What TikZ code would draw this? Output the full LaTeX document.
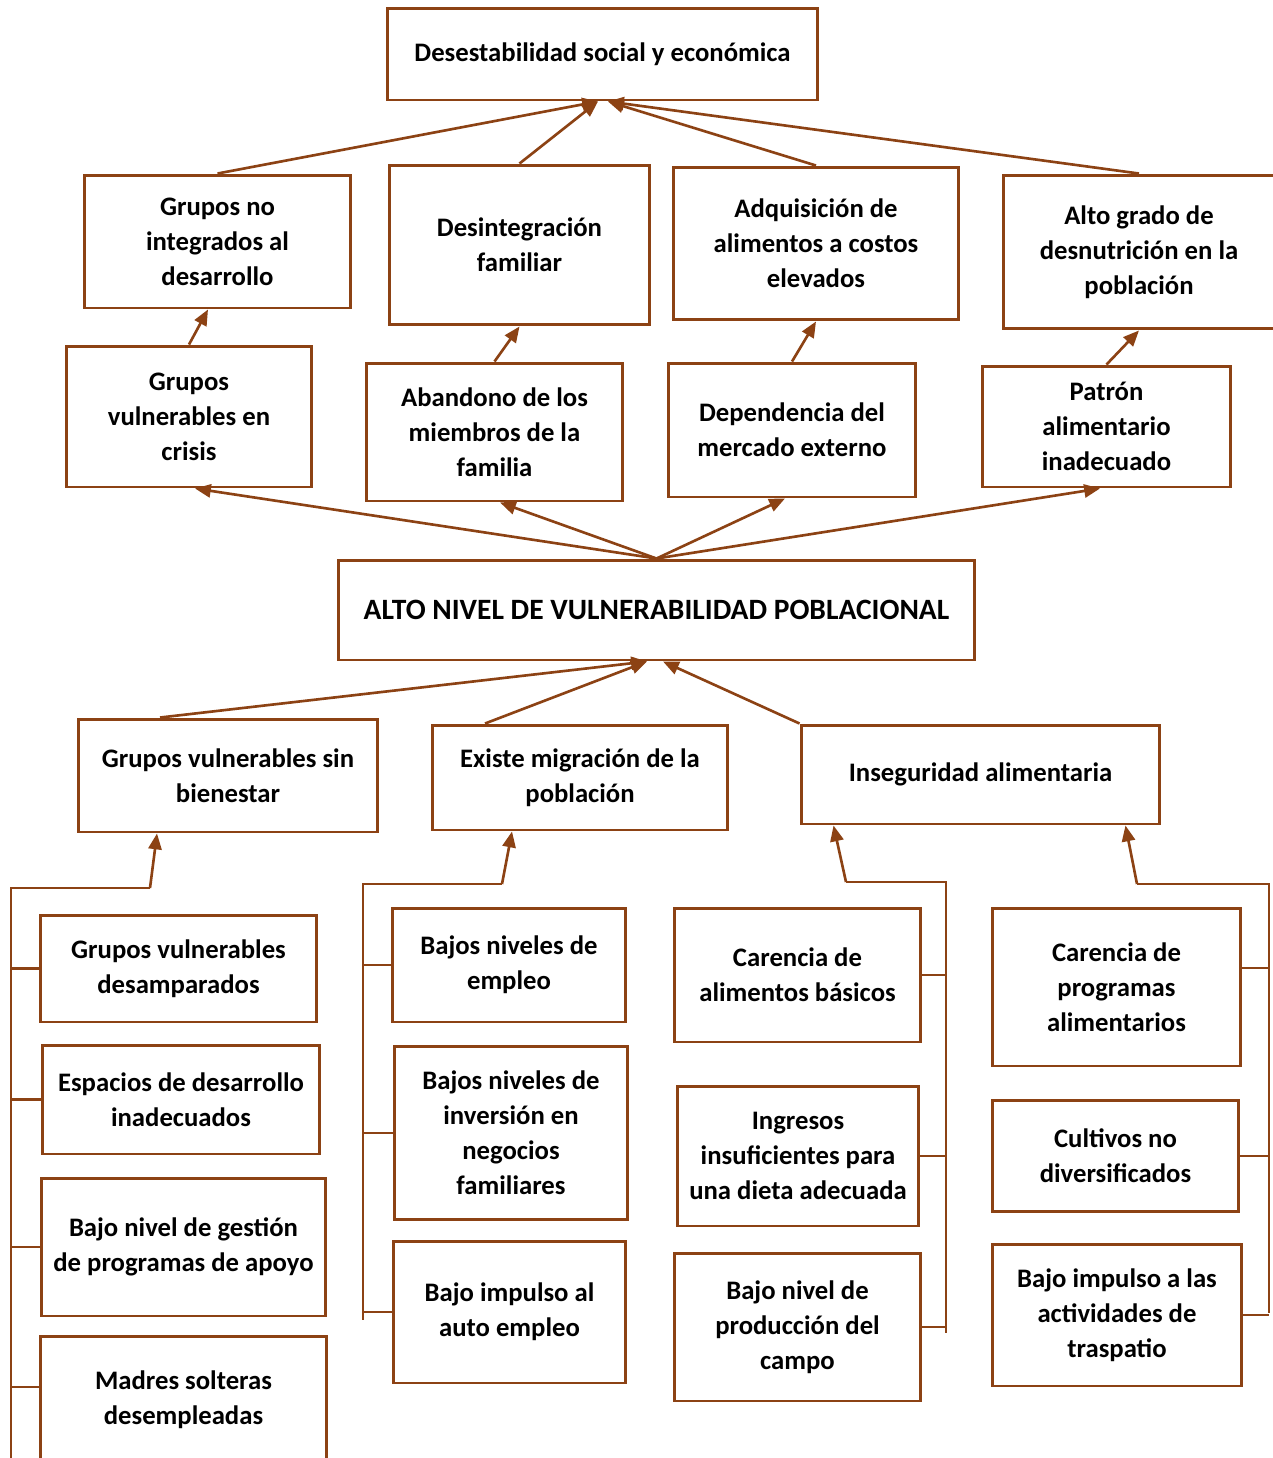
\documentclass[tikz,border=0pt]{standalone}
\usepackage{fontspec}
\setmainfont{Carlito}
\usetikzlibrary{arrows.meta}
\definecolor{brn}{RGB}{140,66,20}
\begin{document}
\begin{tikzpicture}[x=0.02cm, y=-0.02cm,
	every node/.style={draw=brn, line width=1.7pt, rectangle, align=center, inner sep=1pt, font=\fontsize{15.2}{20}\selectfont\bfseries},
	link/.style={draw=brn, line width=1.2pt},
	arr/.style={draw=brn, line width=1.5pt, -{Triangle[length=9pt,width=7.5pt]}}]
	\useasboundingbox (0,0) rectangle (1273,1458);
	% effects
	\node[minimum width=8.62cm, minimum height=1.84cm] at (602.5,54) (des) {Desestabilidad social y económica};
	\node[minimum width=5.34cm, minimum height=2.66cm] at (217.5,241.5) (gni) {Grupos no\\integrados al\\desarrollo};
	\node[minimum width=5.22cm, minimum height=3.2cm] at (519.5,245) (dfa) {Desintegración\\familiar};
	\node[minimum width=5.72cm, minimum height=3.06cm] at (816,243.5) (adq) {Adquisición de\\alimentos a costos\\elevados};
	\node[minimum width=5.44cm, minimum height=3.08cm] at (1139,252) (alt) {Alto grado de\\desnutrición en la\\población};
	\node[minimum width=4.92cm, minimum height=2.82cm] at (189,416.5) (gvc) {Grupos\\vulnerables en\\crisis};
	\node[minimum width=5.14cm, minimum height=2.76cm] at (494.5,432) (aba) {Abandono de los\\miembros de la\\familia};
	\node[minimum width=4.96cm, minimum height=2.68cm] at (792,430) (dep) {Dependencia del\\mercado externo};
	\node[minimum width=4.98cm, minimum height=2.42cm] at (1106.5,426.5) (pat) {Patrón\\alimentario\\inadecuado};
	% problem
	\node[minimum width=12.74cm, minimum height=2cm, font=\fontsize{16.8}{20}\selectfont\bfseries] at (656.5,610) (anv) {ALTO NIVEL DE VULNERABILIDAD POBLACIONAL};
	% causes
	\node[minimum width=6cm, minimum height=2.26cm] at (228,775.5) (gsb) {Grupos vulnerables sin\\bienestar};
	\node[minimum width=5.92cm, minimum height=2.1cm] at (580,777.5) (mig) {Existe migración de la\\población};
	\node[minimum width=7.18cm, minimum height=1.98cm] at (980.5,774.5) (ins) {Inseguridad alimentaria};
	\node[minimum width=5.54cm, minimum height=2.14cm] at (178.5,968.5) (c1a) {Grupos vulnerables\\desamparados};
	\node[minimum width=5.56cm, minimum height=2.18cm] at (181,1099.5) (c1b) {Espacios de desarrollo\\inadecuados};
	\node[minimum width=5.7cm, minimum height=2.76cm] at (183.5,1247) (c1c) {Bajo nivel de gestión\\de programas de apoyo};
	\node[minimum width=5.74cm, minimum height=2.56cm] at (183.5,1400) (c1d) {Madres solteras\\desempleadas};
	\node[minimum width=4.68cm, minimum height=2.28cm] at (509,965) (c2a) {Bajos niveles de\\empleo};
	\node[minimum width=4.68cm, minimum height=3.46cm] at (511,1133) (c2b) {Bajos niveles de\\inversión en\\negocios\\familiares};
	\node[minimum width=4.66cm, minimum height=2.84cm] at (509.5,1312) (c2c) {Bajo impulso al\\auto empleo};
	\node[minimum width=4.94cm, minimum height=2.68cm] at (797.5,975) (c3a) {Carencia de\\alimentos básicos};
	\node[minimum width=4.84cm, minimum height=2.8cm] at (798,1156) (c3b) {Ingresos\\insuficientes para\\una dieta adecuada};
	\node[minimum width=4.94cm, minimum height=2.96cm] at (797.5,1327) (c3c) {Bajo nivel de\\producción del\\campo};
	\node[minimum width=4.98cm, minimum height=3.16cm] at (1116.5,987) (c4a) {Carencia de\\programas\\alimentarios};
	\node[minimum width=4.94cm, minimum height=2.22cm] at (1115.5,1156) (c4b) {Cultivos no\\diversificados};
	\node[minimum width=5cm, minimum height=2.84cm] at (1117,1315) (c4c) {Bajo impulso a las\\actividades de\\traspatio};
	% arrows up
	\draw[arr] (gni.north) -- ([xshift=-0.09cm]des.south);
	\draw[arr] (dfa.north) -- ([xshift=-0.09cm]des.south);
	\draw[arr] (adq.north) -- ([xshift=0.11cm]des.south);
	\draw[arr] (alt.north) -- ([xshift=0.11cm]des.south);
	\draw[arr] (gvc.north) -- ([xshift=-0.19cm]gni.south);
	\draw[arr] (aba.north) -- (dfa.south);
	\draw[arr] (dep.north) -- (adq.south);
	\draw[arr] (pat.north) -- (alt.south);
	\draw[arr] (anv.north) -- ([xshift=0.12cm]gvc.south);
	\draw[arr] (anv.north) -- ([xshift=0.11cm]aba.south);
	\draw[arr] (anv.north) -- ([xshift=-0.14cm]dep.south);
	\draw[arr] (anv.north) -- ([xshift=-0.13cm]pat.south);
	\draw[arr] ([xshift=-1.36cm]gsb.north) -- ([xshift=-0.19cm]anv.south);
	\draw[arr] ([xshift=-1.9cm]mig.north) -- ([xshift=-0.19cm]anv.south);
	\draw[arr] (ins.north west) -- ([xshift=0.13cm]anv.south);
	% brackets
	\coordinate (k1) at (150,888); \coordinate (b1) at (11,1460);
	\coordinate (k2) at (502,884); \coordinate (b2) at (363,1320);
	\coordinate (k3) at (846,882); \coordinate (b3) at (946,1333);
	\coordinate (k4) at (1137,884); \coordinate (b4) at (1269,1313);
	\draw[link] (k1) -| (b1);
	\draw[link] (k2) -| (b2);
	\draw[link] (k3) -| (b3);
	\draw[link] (k4) -| (b4);
	\draw[arr] (k1) -- ([xshift=-1.42cm]gsb.south);
	\draw[arr] (k2) -- ([xshift=-1.36cm]mig.south);
	\draw[arr] (k3) -- ([xshift=0.68cm]ins.south west);
	\draw[arr] (k4) -- ([xshift=-0.72cm]ins.south east);
	\foreach \n in {c1a,c1b,c1c} \draw[link] (\n.west) -- (\n.west -| b1);
	\draw[link] ([yshift=0.26cm]c1d.west) -- ([yshift=0.26cm]c1d.west -| b1);
	\foreach \n in {c2a,c2b,c2c} \draw[link] (\n.west) -- (\n.west -| b2);
	\foreach \n in {c3a,c3b,c3c} \draw[link] (\n.east) -- (\n.east -| b3);
	\draw[link] ([yshift=0.38cm]c4a.east) -- ([yshift=0.38cm]c4a.east -| b4);
	\foreach \n in {c4b,c4c} \draw[link] (\n.east) -- (\n.east -| b4);
\end{tikzpicture}
\end{document}
